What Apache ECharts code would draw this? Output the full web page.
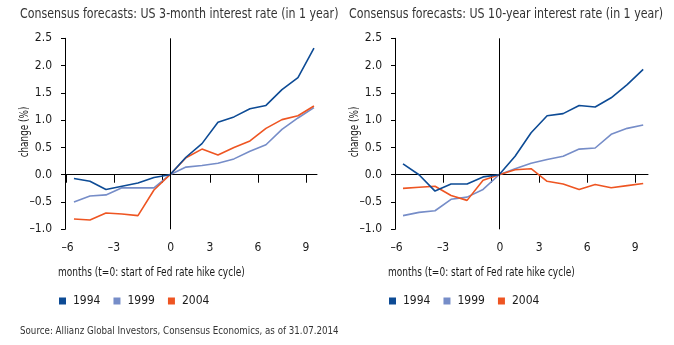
<!DOCTYPE html>
<html><head><meta charset="utf-8">
<script src="https://cdn.jsdelivr.net/npm/echarts@6/dist/echarts.min.js"></script>
<style>html,body{margin:0;padding:0;background:#fff}#c{width:674px;height:345px}</style>
</head><body><div id="c"></div>
<script>
// ---- data ----
const months = [-6,-5,-4,-3,-2,-1,0,1,2,3,4,5,6,7,8,9];
const seriesNames = ['1994','1999','2004'];
const rate3m_1994 = [-0.07,-0.12,-0.27,-0.21,-0.15,-0.05,0,0.32,0.57,0.96,1.06,1.21,1.27,1.56,1.78,2.32];
const rate3m_1999 = [-0.50,-0.39,-0.37,-0.24,-0.24,-0.24,0,0.14,0.17,0.21,0.29,0.43,0.55,0.83,1.04,1.23];
const rate3m_2004 = [-0.81,-0.83,-0.70,-0.72,-0.75,-0.28,0,0.31,0.47,0.36,0.50,0.62,0.85,1.01,1.08,1.26];
const rate10y_1994 = [0.20,0.00,-0.30,-0.17,-0.17,-0.04,0,0.34,0.77,1.08,1.12,1.27,1.24,1.41,1.65,1.93];
const rate10y_1999 = [-0.75,-0.69,-0.66,-0.45,-0.41,-0.27,0,0.11,0.21,0.28,0.34,0.47,0.49,0.74,0.85,0.91];
const rate10y_2004 = [-0.25,-0.23,-0.21,-0.38,-0.47,-0.10,0,0.09,0.11,-0.12,-0.17,-0.27,-0.18,-0.24,-0.20,-0.16];
const xTickLabels = ['–6','–3','0','3','6','9'];
const titles = ['Consensus forecasts: US 3-month interest rate (in 1 year)','Consensus forecasts: US 10-year interest rate (in 1 year)'];
const xAxisTitle = 'months (t=0: start of Fed rate hike cycle)';
const yAxisTitle = 'change (%)';
const sourceText = 'Source: Allianz Global Investors, Consensus Economics, as of 31.07.2014';

// ---- styling / layout ----
const colors = ['#0d4b95','#768dc8','#ee5522'];
const FF = "'Liberation Sans Narrow','DejaVu Sans Condensed','Roboto Condensed',sans-serif";
const xLabelPos = [-6.4,-3.5,0.05,2.5,5.5,8.5];
const xTickPos = [-6.5,-3.5,-0.5,2.5,5.5,8.5];
const panels = [
  {left:65, width:252, min:-6.56, max:9.19, data:[rate3m_1994,rate3m_1999,rate3m_2004], titleX:20},
  {left:395, width:253, min:-6.5, max:9.3, data:[rate10y_1994,rate10y_1999,rate10y_2004], titleX:349}
];
const fmtY = v => (v < 0 ? '–' : '') + Math.abs(v).toFixed(1);
const labelFor = v => {
  let best = 0, d = 1e9;
  xLabelPos.forEach((p,i)=>{ if (Math.abs(p-v) < d) { d = Math.abs(p-v); best = i; } });
  return xTickLabels[best];
};
const txt = (text, x, y, size, color, sx, rot) => ({
  type:'text', x:x, y:y, scaleX:sx, rotation:rot || 0, silent:true,
  style:{text:text, x:0, y:0, fontSize:size, fontFamily:FF, fill:color,
    align: rot ? 'center' : 'left', verticalAlign:'middle'}
});

const option = {animation:false, grid:[], xAxis:[], yAxis:[], series:[], legend:[], graphic:[]};
panels.forEach((p, gi) => {
  option.grid.push({left:p.left, top:38.3, width:p.width, height:191, containLabel:false});
  option.xAxis.push({gridIndex:gi, type:'value', min:p.min, max:p.max, position:'bottom',
    axisLine:{show:false, onZero:false}, axisTick:{show:false}, splitLine:{show:false},
    axisLabel:{customValues:xLabelPos, formatter:labelFor, margin:13, fontSize:12, color:'#1a1a1a', fontFamily:FF}});
  option.xAxis.push({gridIndex:gi, type:'value', min:p.min, max:p.max, position:'bottom',
    axisLine:{show:true, onZero:true, lineStyle:{color:'#000', width:1}},
    axisTick:{show:true, customValues:xTickPos, length:8, lineStyle:{color:'#000', width:1}},
    axisLabel:{show:false}, splitLine:{show:false}});
  option.yAxis.push({gridIndex:gi, type:'value', min:-1, max:2.5, interval:0.5,
    axisLine:{show:true, onZero:false, lineStyle:{color:'#000', width:1}},
    axisTick:{show:true, length:4, lineStyle:{color:'#000'}}, splitLine:{show:false},
    axisLabel:{formatter:fmtY, margin:13, fontSize:12, color:'#1a1a1a', fontFamily:FF}});
  p.data.forEach((arr, si) => {
    const s = {name:seriesNames[si], type:'line', xAxisIndex:gi*2, yAxisIndex:gi,
      data:months.map((m,k)=>[m, arr[k]]), symbol:'none', color:colors[si],
      lineStyle:{width:1.6, color:colors[si]}, z:3 + (si===0?1:0)};
    if (si === 0) s.markLine = {silent:true, symbol:['none','none'], label:{show:false},
      lineStyle:{color:'#000', width:1, type:'solid'}, data:[{xAxis:0}]};
    option.series.push(s);
  });
  option.legend.push({data:seriesNames.map(n=>({name:n, icon:'rect'})), left:p.left-6, top:295, padding:0,
    itemWidth:7, itemHeight:7, itemGap:13, selectedMode:false,
    textStyle:{fontSize:12, color:'#1a1a1a', fontFamily:FF, padding:[0,0,0,2]}});
  option.graphic.push(txt(titles[gi], p.titleX, 14, 14, '#333', 0.876));
  option.graphic.push(txt(xAxisTitle, p.left-7, 272.5, 12, '#1a1a1a', 0.835));
  option.graphic.push(txt(yAxisTitle, p.left-40, 132, 12, '#1a1a1a', 0.82, Math.PI/2));
});
option.graphic.push(txt(sourceText, 20, 331, 11, '#333', 0.88));

const chart = echarts.init(document.getElementById('c'), null, {renderer:'canvas'});
chart.setOption(option);
</script>
</body></html>
